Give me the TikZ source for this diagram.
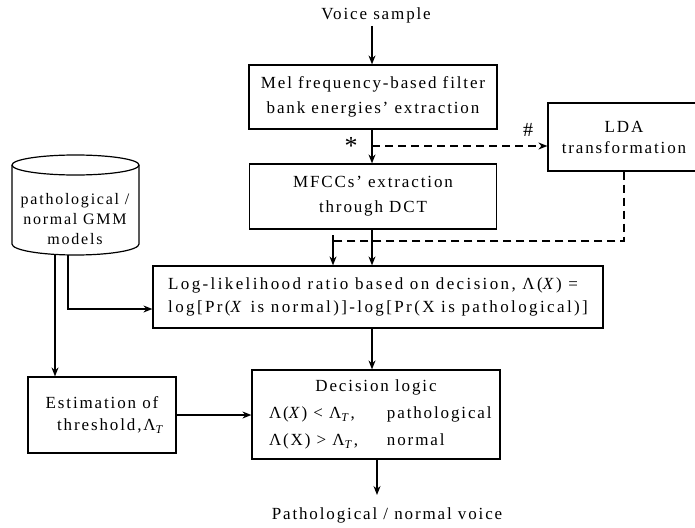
\documentclass[tikz,border=0pt]{standalone}
\usepackage{fontspec}
\setmainfont{Liberation Serif}[LetterSpace=11]
\usetikzlibrary{arrows.meta,calc}
\begin{document}
\begin{tikzpicture}[x=1pt,y=-1pt,
  font=\fontsize{17}{25}\selectfont,
  box/.style={draw,line width=1.2pt,inner sep=0pt,align=center},
  arr/.style={line width=1.2pt,-{Stealth[length=9pt,width=7pt]}},
  dsh/.style={line width=1.2pt,dash pattern=on 8pt off 5pt},
  plain/.style={line width=1.2pt}]
\useasboundingbox (0,0) rectangle (695,527);

\node (voice) at (376,15) {Voice sample};
\node[box,minimum width=248pt,minimum height=64pt] (b1) at (373,97) {Mel frequency-based filter\\bank energies' extraction};
\node[box,minimum width=247pt,minimum height=65pt] (b2) at (373,196.5) {MFCCs' extraction\\through DCT};
\node[box,minimum width=152pt,minimum height=68pt,font=\fontsize{17}{21}\selectfont] (lda) at (624,137) {LDA\\transformation};
\node[box,minimum width=450pt,minimum height=62pt,align=left,font=\fontsize{17}{23}\selectfont\addfontfeatures{LetterSpace=14}] (b3) at (378,297) {Log-likelihood ratio based on decision, Λ(\textit{X}) =\\log[Pr(\textit{X} is normal)]-log[Pr(X is pathological)]};
\node[box,minimum width=248pt,minimum height=89pt,font=\fontsize{17}{27}\selectfont] (b4) at (376,414.5) {Decision logic\\\makebox[214pt][l]{\makebox[118pt][l]{Λ(\textit{X}) < Λ\textsubscript{\textit{T}},}pathological}\\\makebox[214pt][l]{\makebox[118pt][l]{Λ(X) > Λ\textsubscript{\textit{T}},}normal}};
\node[box,minimum width=148pt,minimum height=76pt,font=\fontsize{17}{22}\selectfont] (est) at (102,415) {Estimation of\\\hspace*{18pt}threshold,Λ\textsubscript{\textit{T}}};
\node (out) at (387,515) {Pathological / normal voice};

% cylinder
\draw[plain] (75.5,165) ellipse [x radius=63.5, y radius=10];
\draw[plain] (12,165) -- (12,244) arc[start angle=180,end angle=0,x radius=63.5,y radius=11] -- (139,165);
\node[align=center,font=\fontsize{16}{20}\selectfont] (cyl) at (75,219) {pathological /\\normal GMM\\models};
\coordinate (c1) at (55,254.5);
\coordinate (c2) at (68,255);
\coordinate (k) at (68,309);

\node[font=\fontsize{26}{26}\selectfont] (st) at (351,146) {*};
\node[font=\fontsize{20}{20}\selectfont] (hs) at (528,130) {\#};

\coordinate (va) at (372,26);
\coordinate (star) at (372,146);
\coordinate (j) at (333,241);
\coordinate (jt) at (333,235);
\coordinate (oa) at (377,495);

\draw[arr] (va) -- (va |- b1.north);
\draw[arr] (b1.south -| star) -- (b2.north -| star);
\draw[dsh,-{Stealth[length=9pt,width=7pt]}] (star) -- (star -| lda.west);
\draw[dsh] (lda.south) |- (j);
\draw[arr] (jt) -- (jt |- b3.north);
\draw[arr] (b2.south -| star) -- (b3.north -| star);
\draw[arr] (b3.south -| star) -- (b4.north -| star);
\draw[arr] (b4.south -| oa) -- (oa);
\draw[arr] (c2) |- (b3.west |- k);
\draw[arr] (c1) -- (c1 |- est.north);
\draw[arr] (est.east) -- (est.east -| b4.west);
\end{tikzpicture}
\end{document}
